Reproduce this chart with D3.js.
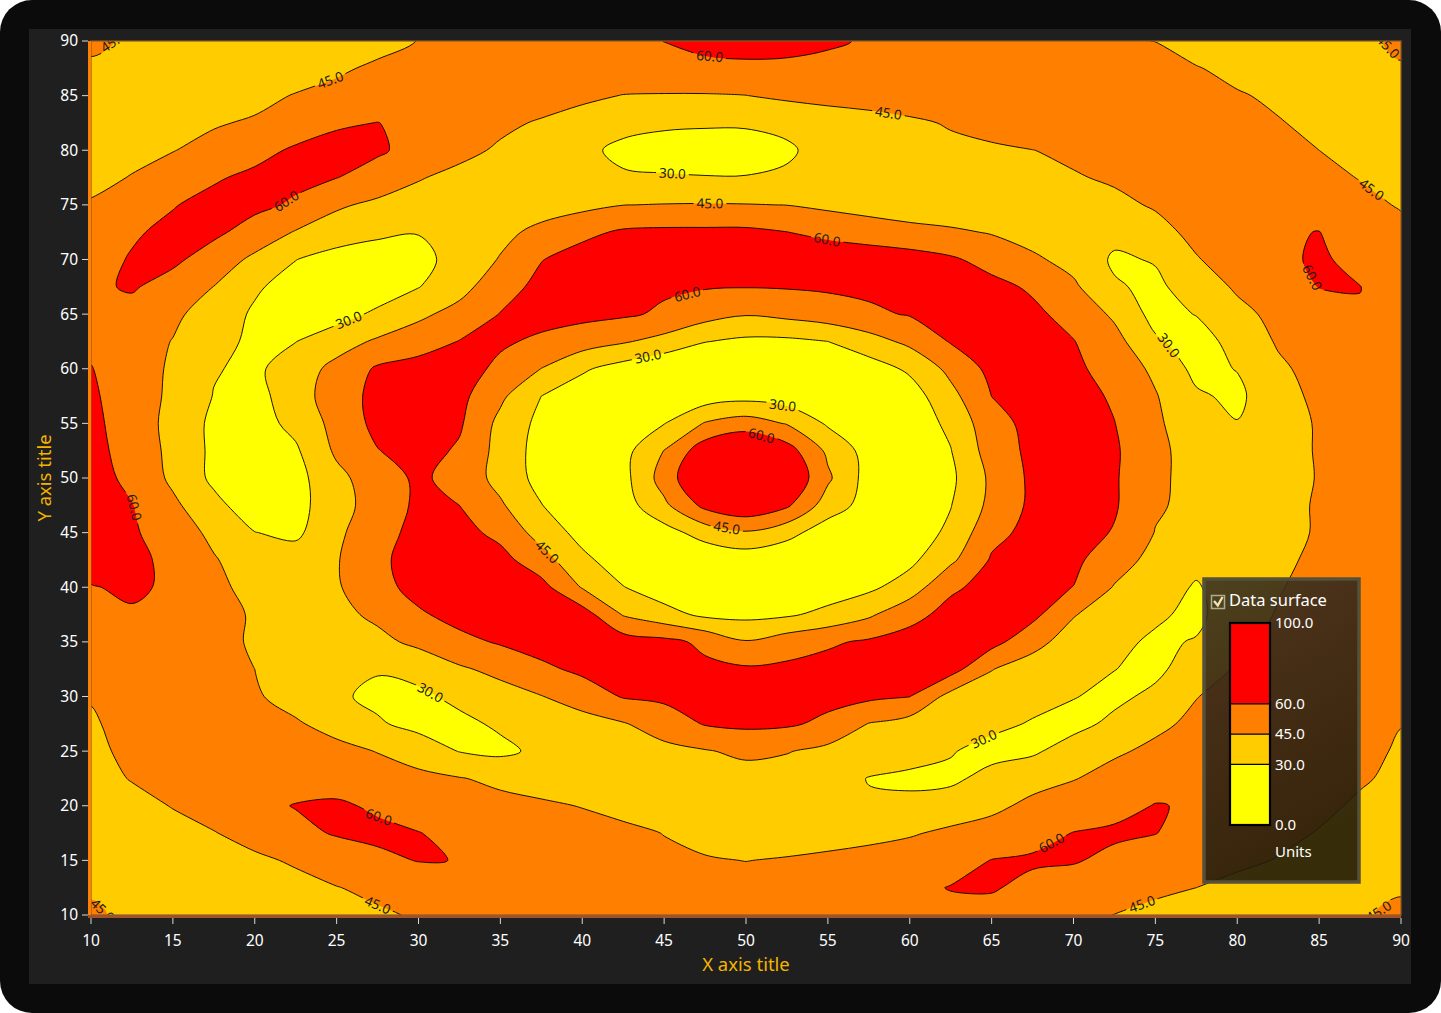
<!DOCTYPE html>
<html><head><meta charset="utf-8">
<script src="https://cdn.jsdelivr.net/npm/d3@7"></script>
<style>
html,body{margin:0;padding:0;background:#fff;}
svg{display:block;font-family:"Segoe UI","Noto Sans","Open Sans",sans-serif;}
</style></head>
<body>
<svg id="chart" width="1441" height="1013"></svg>
<script>
// ---------------- data ----------------
const xTickValues = [10,15,20,25,30,35,40,45,50,55,60,65,70,75,80,85,90];
const yTickValues = [10,15,20,25,30,35,40,45,50,55,60,65,70,75,80,85,90];
const xGrid = [10,12.5,15,17.5,20,22.5,25,27.5,30,32.5,35,37.5,40,42.5,45,47.5,50,52.5,55,57.5,60,62.5,65,67.5,70,72.5,75,77.5,80,82.5,85,87.5,90];
const yGrid = [90,87.5,85,82.5,80,77.5,75,72.5,70,67.5,65,62.5,60,57.5,55,52.5,50,47.5,45,42.5,40,37.5,35,32.5,30,27.5,25,22.5,20,17.5,15,12.5,10];
// surface values, one row per yGrid entry (top row = y 90)
const zRows = [
[47,43.5,36,33,32,32,34,39,45.4,47.8,50.3,52.7,55.2,57.6,60.1,63,65,64,61.5,58.9,56.9,54.8,52.8,50.8,48.8,46.8,44.8,36.6,32,32,35,42.6,47],
[43.5,40,36,33,32.5,36,42.3,48,53,55,56,57,57,57,57,57.5,57.5,57.5,57,57,57,57,57,56,55,53,50.8,46,40,36,35,38,44.2],
[36,34,34,36,40,46,50,53,55,56,55,52,48.5,44.5,44,44,44.8,48,51,53,55,56,56,56,56,55,53,50,46.5,42,38,36,35],
[38,39,41,43.5,47,52,58.5,60.2,57,53,48,43.5,38,34,32,31.5,31.5,32.5,35,38,42,46.5,51,55,55,55,55,53,50,46,41,38,36],
[40,42,44.5,50,55.5,62,64,62,55,49,43,38,33,27,25,24,24.5,28.5,34,38,40,41,42.5,44.8,48,51,53,54,53,50,45,41,38],
[42,45.5,52,58.5,63,63.5,60.3,54,46,41,37.5,35,33,31.5,31,30.5,30.5,31.5,34,37,39,40,41,42,43.8,47,51,54,55,54,50,44.3,41],
[46,52,59.3,64,63.5,58,47,42,39,37,36,38,41,44.8,45.5,45.8,45.5,44.8,42,39,36,35,35,36,38,41.5,46.5,51,54,57,55,50,43.5],
[53,58.5,63,63,54,44,38,33,30.5,34,41,49,56.5,62,63,63,63,60.2,56,53,50,47.3,44,39,35,34,40,49,55,59,60.2,54,50],
[55,61,63,53,42,30.3,24,22,26,35,46,59.5,66,70,71,71,71,71,70,68,66,62,55,47.5,40,28,31,44,52,57,62,56,52],
[57.5,61.5,54,44.8,32,24,20,21,29.5,40,54,64,66,64,62,61,60.5,61,62,63,65,66,64,58,47.5,31.5,27,37,47,53,60.4,60.2,53],
[56,55,48,38,28,22,24,33,42,50,60.5,65,64,62,58,51,46,49,53,57.5,61,65,67,63,55,42.5,25,30.5,41,49,54,59.3,55],
[57,52,44.5,35,27,29.7,39,47,53,60.5,62,57.5,52,46.5,40,30.5,27,27,30,39,48.5,61,66,66,60.5,50,32,24,35,46.5,54,57,57],
[60.5,52,43,31,27,38,49,62,66,66,57,44.8,32,24,17,15,15,15,17,23,32.5,49,64,66,63,54,42,26,30.5,42.5,50,54,56],
[62,53,42,29.5,25,38,53,64,68,64,48,30,22,16,17,22,25,22,17,16,23,40.5,60.1,67,66,58,46,32,27,40,48,53,56],
[63,54,40,27,24,34,50,64,70,62,41,26,17,17,29.5,46,52,44,28,17,22,33,55,64,66,60.3,47.5,36,30.5,38,46.5,51,55],
[64,55,41,27,20,28,47.5,59.5,66,58,40,24,16,25,45.3,69,78.5,66.6,42,24,17,29.5,52,63.5,66,62,48,40,37,40,46,50,54],
[65,57,42,27,18,25,41,53,62.5,55,40,25,16,25,51.6,77.3,96,74.5,47.5,24,17,27,48,63,66,61.5,48,40,37,39,45.8,50,54],
[66,60.5,48,34,22,25,39,52,62.5,60,47,30.5,18,23,41.9,64,72,62.4,37.8,24,17,29.5,49,63,66,61.5,46.8,41,38,40,46.5,50,53],
[67,62,52,42,30.3,27,42,55,64,65,56,39,25,17,24,36.4,43.5,35,22,17,22,33,56,64,66,59,44.5,39,37,40,46.5,51,54],
[68,64,56,46,38,37,44,57,66,69,65,51,33.5,22,16,18,21,18,16,18,26.5,42,61.5,66,63,52,40,33,34,42,48,52,55],
[59,63,57,48,41,38,43.5,55,65,70,70,65,44,30.5,22,20,19.5,20,22,27,37,58,64,64,59.8,44,35,29,36,44,50,53,56],
[57,58,56,50,43.5,38,41,48,58,65,69,69,67,44,35.2,27,26,28,34,42.6,56,64,66,64,46,36,32,27,38,46,51,54,57],
[52,55,54,49,43.5,38,37,41,48.5,56,61.5,66,68,67,64,57,46,53,58,62,65,66,65,50,38,33,28,30.8,42,49,53,55,57],
[49,52,52,49,45,39,34,31,34,43,49,57,63,66,65,63,62,63,65,66,66,66,45.5,38,33.5,30.2,27,37,46.5,51,54,56,58],
[45.5,49,50,49,46.5,40,32,27,27.5,33,39,44.5,52,61,63,64,64,64,64,63,60.2,40,38,34,30.5,27,33,44.6,50,53,55,57,58],
[44,48,50,50,49,46.5,40,31.5,26,27,32,36,39,44,52,61,63,62,57,44.5,39,36,33,29,26,33,42,48,51,52,51,48.5,45.3],
[42,48,51,52,52,51,49,44.5,37.5,29.5,27,33,37,39,41,44,48,45.8,41,38,35,30.8,26,28,36,43,48,52,54,54,52,48.5,43.5],
[38,46,51,53,55,55,54,51.5,49,45.7,42,39,37,36,36.5,38,39,38,36,29.5,27.5,27.5,34,39,44.3,50,55,58.5,56,54,51,46.5,42],
[35,39,45.8,52,57,60.5,62,58,55,52,49,47,44.5,41,38,36,35,34,32,31.5,33,36,41,49,53,56,60.5,59,55,52,48,43,38],
[35,35,39,44.3,51,57,61,63,60.3,57,54,52,50,48,44.7,41,39,38.5,39,41,43.5,48,52,56,60.3,62,60.3,55,52,48.5,44.3,40,36],
[38,35,35,38,42,47,53,57,60.5,59.8,56,53,51,49,47.5,46,44.8,46,48,50,53,55,60.3,61.5,61,57,54,51,48,44.3,40,38,38],
[43.5,40,34,35,37,40,44.5,48.5,51,53,53,52,51,50,50,50,50,51,52,54,57,60.5,61,57,54,51,48,45,41,38,36,38,44],
[47,42,37,34,34,36,39,43,46.5,49,50,50.5,51,51.5,52,52,52.5,53,53.5,54.5,56,56.5,56,53,49,44.8,41,37,35,34,36,44,47]
];
const levels = [30, 45, 60];
const legendStops = [0, 30, 45, 60, 100];
const bandColors = ["#FFFF00", "#FFCC00", "#FF8000", "#FF0000"];
// contour label anchors (data coordinates) and their level
const labelLevels = [45,45,60,45,30,45,45,60,60,45,60,30,60,30,30,30,60,60,45,45,30,30,60,60,45,45,45,45];
const labelXs = [11.5,24.5,47.8,89.0,45.5,58.7,47.8,22.0,55.0,88.2,84.9,25.8,46.6,44.0,75.6,52.2,51.0,12.6,48.8,37.7,30.7,64.5,27.6,68.9,11.0,27.5,74.2,88.3];
const labelYs = [89.6,86.9,89.0,89.2,77.7,83.4,75.1,75.2,72.2,76.4,68.6,64.2,65.8,61.2,61.9,56.2,54.2,47.3,45.2,43.0,30.3,26.2,19.1,15.9,10.9,10.9,10.9,11.1];

// ---------------- drawing ----------------
const W = 1441, H = 1013;
const P = {left: 91, right: 1401, top: 41, bottom: 915};
const svg = d3.select("#chart");
const x = d3.scaleLinear().domain([10, 90]).range([P.left, P.right]);
const y = d3.scaleLinear().domain([10, 90]).range([P.bottom, P.top]);

svg.append("rect").attr("width", W).attr("height", H).attr("fill", "#ffffff");
svg.append("rect").attr("width", W).attr("height", H).attr("rx", 32).attr("fill", "#0b0b0b");
svg.append("rect").attr("x", 29).attr("y", 29).attr("width", 1382).attr("height", 955).attr("fill", "#1f1f1f");

const defs = svg.append("defs");
defs.append("clipPath").attr("id", "plotClip").append("rect")
  .attr("x", P.left).attr("y", P.top).attr("width", P.right - P.left).attr("height", P.bottom - P.top);

const nx = xGrid.length, ny = yGrid.length;
const values = zRows.flat();
const bands = d3.contours().size([nx, ny]).thresholds(levels)(values);
const dxg = xGrid[1] - xGrid[0], dyg = yGrid[1] - yGrid[0];
const toPx = p => [x(xGrid[0] + (p[0] - 0.5) * dxg), y(yGrid[0] + (p[1] - 0.5) * dyg)];
const smooth = d3.line().curve(d3.curveCatmullRomClosed.alpha(0.5));
const ringsPx = b => b.coordinates.flatMap(poly => poly.map(ring => ring.slice(0, -1).map(toPx)));
const pathOf = b => ringsPx(b).map(r => smooth(r)).join("");

const gFill = svg.append("g").attr("clip-path", "url(#plotClip)");
gFill.append("rect").attr("x", P.left).attr("y", P.top)
  .attr("width", P.right - P.left).attr("height", P.bottom - P.top).attr("fill", bandColors[0]);
gFill.selectAll("path").data(bands).join("path")
  .attr("d", pathOf).attr("fill", (d, i) => bandColors[i + 1]).attr("fill-rule", "evenodd");

// label placement on the contour lines
function placeLabel(level, lx, ly) {
  const b = bands[levels.indexOf(level)];
  const A = [x(lx), y(ly)];
  let best = null;
  ringsPx(b).forEach(r => {
    for (let i = 0; i < r.length; i++) {
      const a = r[i], c = r[(i + 1) % r.length];
      const vx = c[0] - a[0], vy = c[1] - a[1];
      const L2 = vx * vx + vy * vy;
      if (L2 < 1e-6) continue;
      let t = ((A[0] - a[0]) * vx + (A[1] - a[1]) * vy) / L2;
      t = Math.max(0, Math.min(1, t));
      const q = [a[0] + t * vx, a[1] + t * vy];
      const d = Math.hypot(q[0] - A[0], q[1] - A[1]);
      if (!best || d < best.d) {
        let ang = Math.atan2(vy, vx) * 180 / Math.PI;
        if (ang > 90) ang -= 180;
        if (ang < -90) ang += 180;
        best = {d, q, ang};
      }
    }
  });
  if (!best || best.d > 30) return {q: A, ang: 0};
  return best;
}
const labels = labelLevels.map((lv, i) => {
  const pl = placeLabel(lv, labelXs[i], labelYs[i]);
  return {text: d3.format(".1f")(lv), px: pl.q[0], py: pl.q[1], ang: pl.ang};
});

const mask = defs.append("mask").attr("id", "labelMask").attr("maskUnits", "userSpaceOnUse")
  .attr("x", 0).attr("y", 0).attr("width", W).attr("height", H);
mask.append("rect").attr("width", W).attr("height", H).attr("fill", "#fff");

const gLines = svg.append("g").attr("clip-path", "url(#plotClip)").append("g").attr("mask", "url(#labelMask)");
gLines.selectAll("path").data(bands).join("path")
  .attr("d", pathOf).attr("fill", "none").attr("stroke", "#000").attr("stroke-width", 0.9);

const gLabels = svg.append("g").attr("clip-path", "url(#plotClip)");
const lblSel = gLabels.selectAll("text").data(labels).join("text")
  .attr("transform", d => `translate(${d.px},${d.py}) rotate(${d.ang})`)
  .attr("text-anchor", "middle").attr("dy", "0.35em")
  .attr("font-size", 13.5).attr("fill", "#1a1a1a").text(d => d.text);
lblSel.each(function(d) {
  const w = this.getComputedTextLength() + 6;
  mask.append("rect").attr("x", -w / 2).attr("y", -7).attr("width", w).attr("height", 14)
    .attr("fill", "#000").attr("transform", `translate(${d.px},${d.py}) rotate(${d.ang})`);
});

// plot frame and axes
svg.append("rect").attr("x", P.left).attr("y", P.top).attr("width", P.right - P.left)
  .attr("height", P.bottom - P.top).attr("fill", "none").attr("stroke", "#8a5a22").attr("stroke-width", 1.2);
svg.append("line").attr("x1", 89.5).attr("x2", 89.5).attr("y1", P.top).attr("y2", P.bottom + 2)
  .attr("stroke", "#ff8000").attr("stroke-width", 3);
svg.append("line").attr("x1", 88).attr("x2", P.right).attr("y1", 916.5).attr("y2", 916.5)
  .attr("stroke", "#a0522d").attr("stroke-width", 3);

const axisG = svg.append("g");
axisG.selectAll("line.yt").data(yTickValues).join("line").attr("class", "yt")
  .attr("x1", 82).attr("x2", 88).attr("y1", d => y(d)).attr("y2", d => y(d))
  .attr("stroke", "#d8d8d8").attr("stroke-width", 1);
axisG.selectAll("text.yl").data(yTickValues).join("text").attr("class", "yl")
  .attr("x", 78).attr("y", d => y(d)).attr("dy", "0.35em").attr("text-anchor", "end")
  .attr("font-size", 15.5).attr("fill", "#ffffff").text(d => d);
axisG.selectAll("line.xt").data(xTickValues).join("line").attr("class", "xt")
  .attr("x1", d => x(d)).attr("x2", d => x(d)).attr("y1", 918).attr("y2", 924)
  .attr("stroke", "#d8d8d8").attr("stroke-width", 1);
axisG.selectAll("text.xl").data(xTickValues).join("text").attr("class", "xl")
  .attr("x", d => x(d)).attr("y", 946).attr("text-anchor", "middle")
  .attr("font-size", 15.5).attr("fill", "#ffffff").text(d => d);

svg.append("text").attr("x", (P.left + P.right) / 2).attr("y", 971).attr("text-anchor", "middle")
  .attr("font-size", 18.5).attr("fill", "#f2b400").text("X axis title");
svg.append("text").attr("transform", `translate(51,${(P.top + P.bottom) / 2}) rotate(-90)`)
  .attr("text-anchor", "middle").attr("font-size", 18.5).attr("fill", "#f2b400").text("Y axis title");

// legend
const grad = defs.append("linearGradient").attr("id", "legGrad").attr("x1", 0).attr("y1", 0).attr("x2", 0.3).attr("y2", 1);
grad.append("stop").attr("offset", "0%").attr("stop-color", "#3a3320");
grad.append("stop").attr("offset", "35%").attr("stop-color", "#33261a");
grad.append("stop").attr("offset", "100%").attr("stop-color", "#211b0b");
const leg = svg.append("g");
leg.append("rect").attr("x", 1204).attr("y", 579).attr("width", 155).attr("height", 303)
  .attr("fill", "url(#legGrad)").attr("fill-opacity", 0.9)
  .attr("stroke", "#55503a").attr("stroke-width", 3.5);
leg.append("rect").attr("x", 1211.5).attr("y", 595.5).attr("width", 13).attr("height", 13)
  .attr("fill", "#4a4226").attr("stroke", "#b3aa8a").attr("stroke-width", 1.5);
leg.append("path").attr("d", "M1214,601 L1217.8,605.5 L1222.5,597")
  .attr("fill", "none").attr("stroke", "#f3e3a6").attr("stroke-width", 2.4);
leg.append("text").attr("x", 1229).attr("y", 606).attr("font-size", 16.5).attr("fill", "#fff").text("Data surface");

const lg = d3.scaleLinear().domain([0, 100]).range([825, 623]);
const bandStops = d3.pairs(legendStops);
leg.selectAll("rect.lb").data(bandStops).join("rect").attr("class", "lb")
  .attr("x", 1230).attr("width", 40).attr("y", d => lg(d[1])).attr("height", d => lg(d[0]) - lg(d[1]))
  .attr("fill", (d, i) => bandColors[i]);
leg.selectAll("line.ls").data(levels).join("line").attr("class", "ls")
  .attr("x1", 1230).attr("x2", 1270).attr("y1", d => lg(d)).attr("y2", d => lg(d))
  .attr("stroke", "#000").attr("stroke-width", 1.3);
leg.append("rect").attr("x", 1230).attr("y", lg(100)).attr("width", 40).attr("height", lg(0) - lg(100))
  .attr("fill", "none").attr("stroke", "#000").attr("stroke-width", 2.2);
leg.selectAll("text.ll").data(legendStops).join("text").attr("class", "ll")
  .attr("x", 1275).attr("y", d => lg(d)).attr("dy", "0.35em")
  .attr("font-size", 15).attr("fill", "#fff").text(d => d3.format(".1f")(d));
leg.append("text").attr("x", 1275).attr("y", 857).attr("font-size", 15).attr("fill", "#fff").text("Units");
</script>
</body></html>
